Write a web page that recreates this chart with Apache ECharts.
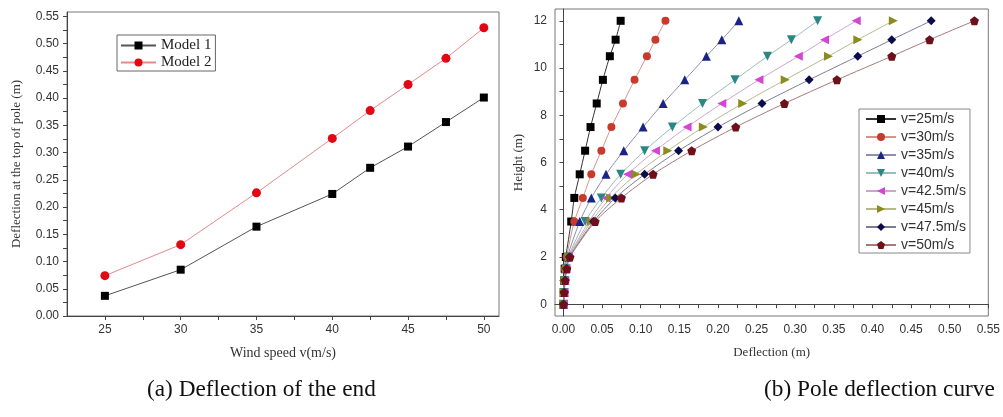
<!DOCTYPE html>
<html>
<head>
<meta charset="utf-8">
<script src="https://cdn.jsdelivr.net/npm/echarts@6/dist/echarts.min.js"></script>
<style>
	html, body { margin: 0; padding: 0; background: #fff; }
	#main { width: 1003px; height: 417px; }
</style>
</head>
<body>
<div id="main"></div>
<script>
// (a) top deflection vs wind speed
var windSpeeds = [25, 30, 35, 40, 42.5, 45, 47.5, 50];
var model1 = [0.037, 0.085, 0.164, 0.224, 0.272, 0.311, 0.356, 0.401];
var model2 = [0.074, 0.131, 0.226, 0.326, 0.377, 0.425, 0.473, 0.529];

// (b) deflection along the pole
var heights = [0, 0.5, 1, 1.5, 2, 3.5, 4.5, 5.5, 6.5, 7.5, 8.5, 9.5, 10.5, 11.2, 12];
var curveNames = ['v=25m/s', 'v=30m/s', 'v=35m/s', 'v=40m/s', 'v=42.5m/s', 'v=45m/s', 'v=47.5m/s', 'v=50m/s'];
var d25 = [0, 0.0003, 0.0008, 0.0015, 0.003, 0.010, 0.014, 0.021, 0.028, 0.035, 0.043, 0.051, 0.060, 0.0675, 0.074];
var d30 = [0, 0.0005, 0.001, 0.002, 0.004, 0.014, 0.025, 0.036, 0.049, 0.062, 0.077, 0.092, 0.108, 0.119, 0.132];
var d35 = [0, 0.0006, 0.0013, 0.0025, 0.005, 0.021, 0.036, 0.055, 0.078, 0.103, 0.129, 0.157, 0.185, 0.205, 0.227];
var d40 = [0, 0.0007, 0.0015, 0.003, 0.006, 0.028, 0.049, 0.074, 0.105, 0.141, 0.180, 0.222, 0.264, 0.295, 0.329];
var d425 = [0, 0.0008, 0.0017, 0.0033, 0.0065, 0.033, 0.055, 0.083, 0.119, 0.160, 0.205, 0.253, 0.304, 0.338, 0.379];
var d45 = [0, 0.0008, 0.0018, 0.0036, 0.007, 0.036, 0.061, 0.094, 0.135, 0.181, 0.232, 0.287, 0.343, 0.381, 0.427];
var d475 = [0, 0.0009, 0.002, 0.004, 0.0078, 0.039, 0.067, 0.105, 0.149, 0.200, 0.257, 0.318, 0.381, 0.425, 0.476];
var d50 = [0, 0.001, 0.0022, 0.0043, 0.0084, 0.041, 0.075, 0.116, 0.166, 0.223, 0.286, 0.354, 0.425, 0.474, 0.532];
var curves = [d25, d30, d35, d40, d425, d45, d475, d50];

// tick labels
var speedLabels = [25, 30, 35, 40, 45, 50];
var speedTicks = [25, 27.5, 30, 32.5, 35, 37.5, 40, 42.5, 45, 47.5, 50];
var topDefLabels = [0, 0.05, 0.10, 0.15, 0.20, 0.25, 0.30, 0.35, 0.40, 0.45, 0.50, 0.55];
var topDefTicks = [0, 0.025, 0.05, 0.075, 0.10, 0.125, 0.15, 0.175, 0.20, 0.225, 0.25, 0.275, 0.30, 0.325, 0.35, 0.375, 0.40, 0.425, 0.45, 0.475, 0.50, 0.525, 0.55];
var heightLabels = [0, 2, 4, 6, 8, 10, 12];
var heightTicks = [0, 1, 2, 3, 4, 5, 6, 7, 8, 9, 10, 11, 12];
var defLabels = [0, 0.05, 0.10, 0.15, 0.20, 0.25, 0.30, 0.35, 0.40, 0.45, 0.50, 0.55];
var defTicks = [0, 0.025, 0.05, 0.075, 0.10, 0.125, 0.15, 0.175, 0.20, 0.225, 0.25, 0.275, 0.30, 0.325, 0.35, 0.375, 0.40, 0.425, 0.45, 0.475, 0.50, 0.525, 0.55];

var serif = '"Liberation Serif", "Times New Roman", serif';
var sans = '"Liberation Sans", Arial, sans-serif';

var pentagon = 'path://M0,-1L0.951,-0.309L0.588,0.809L-0.588,0.809L-0.951,-0.309Z';
var markStyle = [
	{symbol: 'rect', rotate: 0, size: 8, color: '#000000', line: '#333333'},
	{symbol: 'circle', rotate: 0, size: 8, color: '#c83a2c', line: '#d79486'},
	{symbol: 'triangle', rotate: 0, size: 9, color: '#1a2486', line: '#8c8fae'},
	{symbol: 'triangle', rotate: 180, size: 9, color: '#2a8784', line: '#9abcba'},
	{symbol: 'triangle', rotate: 90, size: 9, color: '#d544d4', line: '#cfa3cf'},
	{symbol: 'triangle', rotate: -90, size: 9, color: '#8c8c1e', line: '#b8b88e'},
	{symbol: 'diamond', rotate: 0, size: 9, color: '#0b0b4e', line: '#7c7c98'},
	{symbol: pentagon, rotate: 0, size: 9, color: '#6e1019', line: '#a67a7c'}
];

function axisCommon(labels, ticks) {
	return {
		axisLine: {show: true, lineStyle: {color: '#444', width: 1}},
		axisTick: {show: true, inside: false, length: 4, customValues: ticks, lineStyle: {color: '#444'}},
		axisLabel: {customValues: labels, color: '#333', fontFamily: sans, fontSize: 12, margin: 8},
		splitLine: {show: false},
		nameTextStyle: {fontFamily: serif, fontSize: 13, color: '#333'}
	};
}

var xa = axisCommon(speedLabels, speedTicks);
xa.gridIndex = 0; xa.type = 'value'; xa.min = 22.5; xa.max = 51;
xa.name = 'Wind speed v(m/s)'; xa.nameLocation = 'middle'; xa.nameGap = 30;
xa.nameTextStyle.fontSize = 14;
xa.axisLabel.formatter = function(v) { return String(v); };

var ya = axisCommon(topDefLabels, topDefTicks);
ya.gridIndex = 0; ya.type = 'value'; ya.min = 0; ya.max = 0.558;
ya.name = 'Deflection at the top of pole (m)'; ya.nameLocation = 'middle'; ya.nameGap = 44;
ya.axisLabel.formatter = function(v) { return v.toFixed(2); };

var xb = axisCommon(defLabels, defTicks);
xb.gridIndex = 1; xb.type = 'value'; xb.min = -0.011; xb.max = 0.55;
xb.name = 'Deflection (m)'; xb.nameLocation = 'middle'; xb.nameGap = 30;
xb.axisLabel.formatter = function(v) { return v.toFixed(2); };

var yb = axisCommon(heightLabels, heightTicks);
yb.gridIndex = 1; yb.type = 'value'; yb.min = -0.5; yb.max = 12.5;
yb.name = 'Height (m)'; yb.nameLocation = 'middle'; yb.nameGap = 30;

var series = [
	{
		name: 'Model 1', type: 'line', xAxisIndex: 0, yAxisIndex: 0,
		data: windSpeeds.map(function(s, i) { return [s, model1[i]]; }),
		symbol: 'rect', symbolSize: 8,
		itemStyle: {color: '#000'},
		lineStyle: {color: '#555', width: 1}
	},
	{
		name: 'Model 2', type: 'line', xAxisIndex: 0, yAxisIndex: 0,
		data: windSpeeds.map(function(s, i) { return [s, model2[i]]; }),
		symbol: 'circle', symbolSize: 9,
		itemStyle: {color: '#e30613'},
		lineStyle: {color: '#e58a8a', width: 1}
	}
];

curves.forEach(function(c, k) {
	var m = markStyle[k];
	series.push({
		name: curveNames[k], type: 'line', xAxisIndex: 1, yAxisIndex: 1,
		data: c.map(function(d, i) { return [d, heights[i]]; }),
		smooth: 0.25,
		symbol: m.symbol, symbolRotate: m.rotate, symbolSize: m.size,
		itemStyle: {color: m.color},
		lineStyle: {color: m.line, width: 1}
	});
});

var captionStyle = {fontFamily: serif, fontSize: 24, fill: '#111'};

var chart = echarts.init(document.getElementById('main'), null, {renderer: 'canvas'});
chart.setOption({
	animation: false,
	backgroundColor: '#fff',
	graphic: [
		{type: 'text', left: 147, top: 378, scaleX: 0.97, style: Object.assign({text: '(a) Deflection of the end'}, captionStyle)},
		{type: 'text', left: 764, top: 378, scaleX: 0.97, style: Object.assign({text: '(b) Pole deflection curve'}, captionStyle)}
	],
	grid: [
		{left: 67, top: 12, width: 432, height: 304, show: true, borderColor: '#777', borderWidth: 1, backgroundColor: 'transparent'},
		{left: 555, top: 9, width: 436, height: 307, show: true, borderColor: '#777', borderWidth: 1, backgroundColor: 'transparent'}
	],
	legend: [
		{
			data: ['Model 1', 'Model 2'], orient: 'vertical', left: 117, top: 35,
			padding: [3, 4, 1, 3], itemGap: 2, itemWidth: 35, itemHeight: 10,
			borderColor: '#666', borderWidth: 1,
			textStyle: {fontFamily: serif, fontSize: 15, color: '#222'}
		},
		{
			data: curveNames, orient: 'vertical', left: 859, top: 109,
			padding: [3, 4, 1, 6], itemGap: 4, itemWidth: 30, itemHeight: 10,
			borderColor: '#888', borderWidth: 1,
			textStyle: {fontFamily: sans, fontSize: 14, color: '#333'}
		}
	],
	xAxis: [xa, xb],
	yAxis: [ya, yb],
	series: series
});
</script>
</body>
</html>
